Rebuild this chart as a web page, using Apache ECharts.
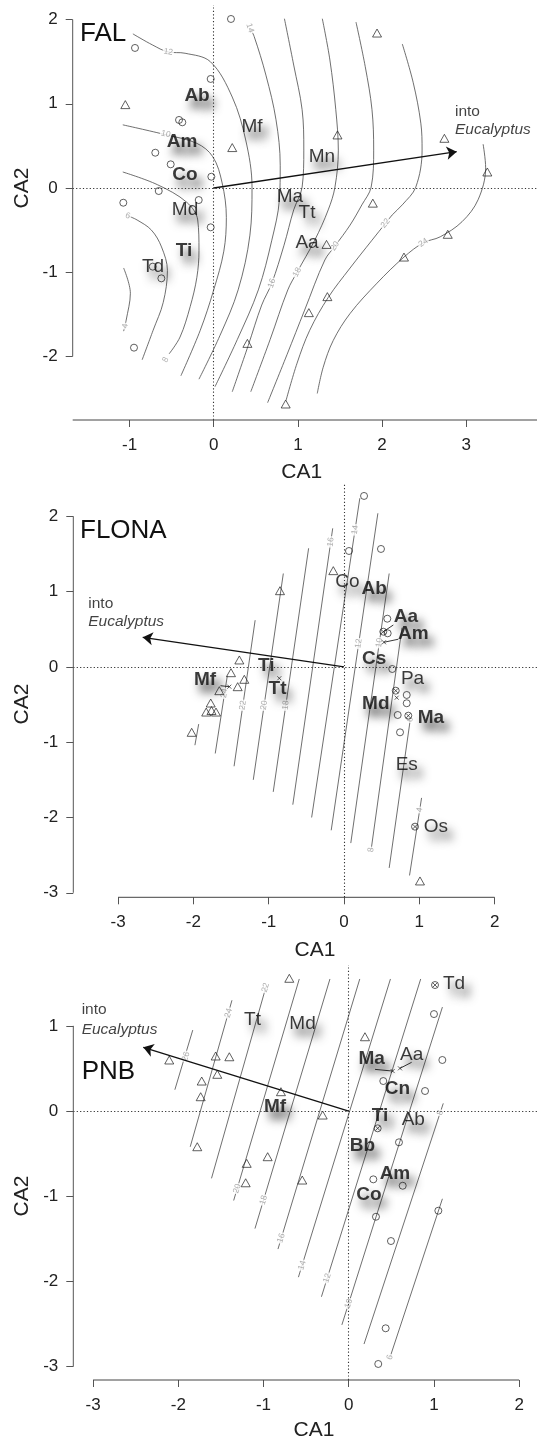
<!DOCTYPE html>
<html><head><meta charset="utf-8">
<script src="https://cdn.jsdelivr.net/npm/echarts@6/dist/echarts.min.js"></script>
<style>html,body{margin:0;padding:0;background:#fff}#c{width:540px;height:1442px}</style>
</head><body><div id="c"></div>
<script>
// ================= DATA =================
// ---- FAL ----
const falXTicks = [-1, 0, 1, 2, 3];
const falYTicks = [-2, -1, 0, 1, 2];
const falCircles = [[0.205,2.007],[-0.935,1.663],[-0.036,1.295],[-0.412,0.808],[-0.373,0.780],[-0.694,0.419],[-0.511,0.281],[-0.028,0.134],[-0.653,-0.036],[-1.074,-0.175],[-0.178,-0.143],[-0.036,-0.467],[-0.724,-0.934],[-0.622,-1.073],[-0.947,-1.896]];
const falTriangles = [[-1.05,0.99],[0.22,0.48],[1.94,1.84],[1.47,0.63],[2.74,0.59],[3.25,0.19],[1.89,-0.18],[2.78,-0.55],[2.26,-0.82],[1.35,-1.29],[1.13,-1.48],[0.855,-2.565],[0.40,-1.845],[1.34,-0.67]];
const falCircleX = [];
const falCrosses = [];
const falLeaders = [];
const falSpecies = ['Ab','Mf','Am','Co','Md','Mn','Ma','Tt','Aa','Ti','Td'];
const falSpeciesPos = [[-0.198,1.093],[0.455,0.724],[-0.376,0.546],[-0.341,0.154],[-0.341,-0.261],[1.286,0.368],[0.906,-0.107],[1.108,-0.297],[1.108,-0.653],[-0.353,-0.748],[-0.721,-0.938]];
const falSpeciesBold = [1,0,1,1,0,0,0,0,0,1,0];
const falArrow = [2.886, 0.431];
const falIntoPos = [[2.866,0.903],[2.866,0.689]];
const falContourLevels = [4,6,8,10,12,14,16,18,20,22,24];
const falContourPaths = [
  [[-1.07,-0.95],[-0.99,-1.25],[-1.04,-1.57],[-1.07,-1.70]],
  [[-1.02,-0.33],[-0.91,-0.38],[-0.74,-0.50],[-0.62,-0.70],[-0.55,-0.98],[-0.60,-1.36],[-0.72,-1.69],[-0.85,-2.04]],
  [[-1.08,0.19],[-0.67,0.04],[-0.32,-0.17],[-0.19,-0.38],[-0.175,-0.74],[-0.20,-1.06],[-0.28,-1.41],[-0.40,-1.77],[-0.53,-1.97]],
  [[-1.08,0.75],[-0.56,0.63],[-0.20,0.53],[-0.01,0.37],[0.10,0.06],[0.15,-0.35],[0.12,-0.75],[0.00,-1.21],[-0.16,-1.69],[-0.39,-2.23]],
  [[-0.96,1.83],[-0.73,1.70],[-0.54,1.615],[-0.34,1.60],[-0.04,1.50],[0.22,1.08],[0.38,0.57],[0.455,0.01],[0.43,-0.56],[0.29,-1.21],[0.075,-1.75],[-0.175,-2.27]],
  [[0.43,1.90],[0.48,1.80],[0.62,1.34],[0.74,0.81],[0.79,0.27],[0.78,-0.14],[0.69,-0.62],[0.53,-1.21],[0.28,-1.80],[0.015,-2.36]],
  [[0.84,2.01],[0.95,1.46],[1.05,0.93],[1.07,0.45],[1.05,0.01],[0.95,-0.26],[0.835,-0.68],[0.69,-1.13],[0.57,-1.39],[0.41,-1.87],[0.22,-2.42]],
  [[1.29,2.01],[1.38,1.52],[1.45,0.93],[1.48,0.45],[1.44,0.01],[1.36,-0.26],[1.20,-0.62],[0.99,-1.00],[0.88,-1.21],[0.67,-1.80],[0.44,-2.42]],
  [[1.69,1.97],[1.80,1.44],[1.88,0.93],[1.90,0.45],[1.87,0.01],[1.76,-0.20],[1.62,-0.44],[1.44,-0.69],[1.32,-0.855],[1.08,-1.45],[0.87,-1.98],[0.64,-2.55]],
  [[2.24,1.71],[2.37,1.25],[2.46,0.77],[2.475,0.45],[2.40,0.01],[2.24,-0.20],[2.12,-0.32],[2.04,-0.42],[1.88,-0.62],[1.62,-0.95],[1.36,-1.30],[1.14,-1.69],[0.99,-2.08],[0.86,-2.52]],
  [[3.20,0.52],[3.23,0.24],[3.14,-0.14],[2.95,-0.40],[2.69,-0.58],[2.49,-0.65],[2.26,-0.82],[1.94,-1.13],[1.62,-1.49],[1.42,-1.81],[1.30,-2.13],[1.23,-2.44]]
];
const falContourLabelPos = [[-1.05,-1.64],[-1.02,-0.33],[-0.57,-2.04],[-0.57,0.64],[-0.54,1.615],[0.43,1.90],[0.69,-1.13],[0.99,-1.00],[1.44,-0.69],[2.04,-0.42],[2.49,-0.65]];
const falContourLabelAngles = [80,-20,60,-14,-10,-72,70,63,55,50,35];

// ---- FLONA ----
const flonaXTicks = [-3, -2, -1, 0, 1, 2];
const flonaYTicks = [-3, -2, -1, 0, 1, 2];
const flonaCircles = [[0.266,2.270],[0.066,1.539],[0.491,1.566],[0.575,0.640],[0.580,0.446],[0.641,-0.028],[0.833,-0.373],[0.833,-0.483],[0.713,-0.639],[0.744,-0.869]];
const flonaTriangles = [[-0.142,1.278],[-0.850,1.012],[-1.390,0.092],[-1.501,-0.077],[-1.324,-0.165],[-1.412,-0.263],[-1.656,-0.316],[-1.77,-0.48],[-1.83,-0.60],[-1.76,-0.58],[-1.70,-0.60],[-2.023,-0.869],[1.009,-2.843]];
const flonaCircleX = [[0.522,0.467],[0.687,-0.316],[0.854,-0.648],[0.943,-2.122]];
const flonaCrosses = [[0.531,0.327],[0.700,-0.409],[-0.859,-0.151],[-1.523,-0.263]];
const flonaLeaders = [[[0.522,0.467],[0.655,0.556]],[[0.531,0.327],[0.721,0.367]],[[-1.523,-0.263],[-1.64,-0.25]]];
const flonaSpecies = ['Co','Ab','Aa','Am','Cs','Pa','Md','Ma','Es','Os','Mf','Ti','Tt'];
const flonaSpeciesPos = [[0.044,1.131],[0.401,1.044],[0.821,0.667],[0.920,0.434],[0.401,0.114],[0.910,-0.163],[0.422,-0.493],[1.153,-0.672],[0.833,-1.303],[1.219,-2.126],[-1.846,-0.174],[-1.032,0.012],[-0.883,-0.284]];
const flonaSpeciesBold = [0,1,1,1,1,0,1,1,0,0,1,1,1];
const flonaArrow = [-2.673, 0.393];
const flonaIntoPos = [[-3.396,0.835],[-3.396,0.596]];
const flonaContourLevels = [26,24,22,20,18,16,14,12,10,8,6,4];
const flonaContourPaths = [
  [[-1.98,-1.04],[-1.93,-0.76]],
  [[-1.71,-1.15],[-1.55,-0.12]],
  [[-1.46,-1.32],[-1.18,0.62]],
  [[-1.205,-1.50],[-0.806,1.24]],
  [[-0.94,-1.66],[-0.47,1.575]],
  [[-0.68,-1.83],[-0.15,1.84]],
  [[-0.43,-2.00],[0.21,2.24]],
  [[-0.17,-2.17],[0.45,2.04]],
  [[0.09,-2.34],[0.60,1.24]],
  [[0.36,-2.43],[0.77,0.52]],
  [[0.60,-2.67],[0.88,-0.70]],
  [[0.87,-2.77],[1.03,-1.74]]
];
const flonaContourLabelPos = [null,[-1.59,-0.35],[-1.343,-0.51],[-1.061,-0.51],[-0.773,-0.51],[-0.176,1.66],[0.147,1.82],[0.195,0.31],[0.469,0.32],[0.36,-2.43],[0.88,-0.70],[1.005,-1.90]];
const flonaContourLabelAngles = [82,82,82,82,82,82,82,82,82,82,82,82];

// ---- PNB ----
const pnbXTicks = [-3, -2, -1, 0, 1, 2];
const pnbYTicks = [-3, -2, -1, 0, 1];
const pnbCircles = [[1.001,1.138],[1.099,0.599],[0.406,0.352],[0.896,0.235],[0.590,-0.367],[0.289,-0.802],[0.634,-0.877],[0.320,-1.241],[0.496,-1.526],[0.434,-2.550],[0.347,-2.969],[1.052,-1.170]];
const pnbTriangles = [[-0.697,1.558],[0.191,0.872],[-2.106,0.599],[-1.561,0.646],[-1.401,0.637],[-1.725,0.352],[-1.542,0.431],[-1.737,0.168],[-0.795,0.227],[-0.305,-0.047],[-1.777,-0.419],[-0.951,-0.536],[-1.197,-0.614],[-1.209,-0.842],[-0.545,-0.810]];
const pnbCircleX = [[1.013,1.479],[0.340,-0.203]];
const pnbCrosses = [[0.516,0.469],[0.602,0.501]];
const pnbLeaders = [[[0.309,0.489],[0.516,0.469]],[[0.602,0.501],[0.739,0.572]]];
const pnbSpecies = ['Td','Tt','Md','Ma','Aa','Cn','Mf','Ti','Ab','Bb','Am','Co'];
const pnbSpeciesPos = [[1.236,1.491],[-1.129,1.077],[-0.542,1.021],[0.270,0.608],[0.739,0.657],[0.573,0.256],[-0.865,0.050],[0.367,-0.061],[0.758,-0.106],[0.162,-0.408],[0.543,-0.742],[0.238,-0.986]];
const pnbSpeciesBold = [0,0,0,1,0,1,1,1,0,1,1,1];
const pnbArrow = [-2.411, 0.748];
const pnbIntoPos = [[-3.134,1.185],[-3.134,0.959]];
const pnbContourLevels = [26,24,22,20,18,16,14,12,10,8,6];
const pnbContourPaths = [
  [[-2.04,0.25],[-1.83,0.95]],
  [[-1.86,-0.42],[-1.37,1.30]],
  [[-1.61,-0.79],[-0.97,1.46]],
  [[-1.35,-1.05],[-0.58,1.55]],
  [[-1.10,-1.38],[-0.22,1.55]],
  [[-0.83,-1.62],[0.13,1.55]],
  [[-0.59,-1.95],[0.49,1.55]],
  [[-0.32,-2.18],[0.845,1.55]],
  [[-0.08,-2.51],[1.10,1.22]],
  [[0.18,-2.735],[1.11,0.09]],
  [[0.485,-2.89],[1.10,-1.03]]
];
const pnbContourLabelPos = [[-1.91,0.64],[-1.41,1.15],[-0.975,1.45],[-1.308,-0.91],[-0.999,-1.045],[-0.792,-1.49],[-0.546,-1.81],[-0.252,-1.96],[0.0,-2.26],[1.073,-0.02],[0.485,-2.89]];
const pnbContourLabelAngles = [73,73,73,73,73,73,73,73,73,73,73];

// ================= LAYOUT / STYLE =================
const FONT = '"Liberation Sans", Arial, Helvetica, sans-serif';
const layouts = [
  {left:72.7, top:5,   width:464.3, height:415,   xMin:-1.675, xMax:3.84,  yMin:-2.755, yMax:2.173, fullX:true,  smooth:0.35},
  {left:73.3, top:483, width:463.7, height:414.3, xMin:-3.595, xMax:2.563, yMin:-3.06,  yMax:2.442, fullX:false, smooth:false},
  {left:73.3, top:965, width:463.7, height:415,   xMin:-3.232, xMax:2.21,  yMin:-3.157, yMax:1.714, fullX:false, smooth:false}
];
const panels = [
  {xt:falXTicks, yt:falYTicks, circles:falCircles, triangles:falTriangles, circleX:falCircleX, crosses:falCrosses, leaders:falLeaders,
   species:falSpecies, speciesPos:falSpeciesPos, bold:falSpeciesBold, arrow:falArrow, into:falIntoPos,
   levels:falContourLevels, paths:falContourPaths, lpos:falContourLabelPos, lang:falContourLabelAngles},
  {xt:flonaXTicks, yt:flonaYTicks, circles:flonaCircles, triangles:flonaTriangles, circleX:flonaCircleX, crosses:flonaCrosses, leaders:flonaLeaders,
   species:flonaSpecies, speciesPos:flonaSpeciesPos, bold:flonaSpeciesBold, arrow:flonaArrow, into:flonaIntoPos,
   levels:flonaContourLevels, paths:flonaContourPaths, lpos:flonaContourLabelPos, lang:flonaContourLabelAngles},
  {xt:pnbXTicks, yt:pnbYTicks, circles:pnbCircles, triangles:pnbTriangles, circleX:pnbCircleX, crosses:pnbCrosses, leaders:pnbLeaders,
   species:pnbSpecies, speciesPos:pnbSpeciesPos, bold:pnbSpeciesBold, arrow:pnbArrow, into:pnbIntoPos,
   levels:pnbContourLevels, paths:pnbContourPaths, lpos:pnbContourLabelPos, lang:pnbContourLabelAngles}
];
const CROSS = 'path://M0,0L10,10M10,0L0,10';
const hollow = {color:'transparent', borderColor:'#222', borderWidth:0.9};

const grids=[], xAxes=[], yAxes=[], series=[];
panels.forEach((P,i)=>{
  const L = layouts[i];
  grids.push({left:L.left, top:L.top, width:L.width, height:L.height, containLabel:false, outerBoundsMode:'none'});
  const tickCommon = {length:7, lineStyle:{color:'#555', width:1}};
  const labCommon = {fontSize:17, color:'#222', fontFamily:FONT};
  xAxes.push({type:'value', gridIndex:i, min:L.xMin, max:L.xMax, splitLine:{show:false},
    axisLine:{show:false, onZero:false},
    axisTick:Object.assign({show:true, customValues:P.xt}, tickCommon),
    axisLabel:Object.assign({customValues:P.xt, margin:17}, labCommon)});
  yAxes.push({type:'value', gridIndex:i, min:L.yMin, max:L.yMax, splitLine:{show:false},
    axisLine:{show:false, onZero:false},
    axisTick:Object.assign({show:true, customValues:P.yt}, tickCommon),
    axisLabel:Object.assign({customValues:P.yt, margin:15}, labCommon)});
  const ax = {xAxisIndex:i, yAxisIndex:i};
  const xl = L.fullX ? [L.xMin, L.xMax] : [P.xt[0], P.xt[P.xt.length-1]];
  series.push(Object.assign({type:'line', data:[[xl[0],L.yMin],[xl[1],L.yMin]], symbol:'none', clip:false, silent:true, z:6,
    lineStyle:{color:'#444', width:1},
    markLine:{silent:true, animation:false, symbol:['none','none'], label:{show:false},
      lineStyle:{color:'#333', type:[1.2,2.2], width:1.1}, data:[{xAxis:0},{yAxis:0}]}}, ax));
  series.push(Object.assign({type:'line', data:[[L.xMin,P.yt[0]],[L.xMin,P.yt[P.yt.length-1]]], symbol:'none', clip:false, silent:true, z:6,
    lineStyle:{color:'#555', width:1},
    markLine:{silent:true, animation:false, symbol:['none','arrow'], symbolSize:10, label:{show:false},
      lineStyle:{color:'#111', type:'solid', width:1.3}, data:[[{coord:[0,0]},{coord:P.arrow}]]}}, ax));
  P.paths.forEach(path=>{
    series.push(Object.assign({type:'line', data:path, smooth:L.smooth, symbol:'none', showSymbol:false, silent:true, z:1,
      lineStyle:{color:'#4a4a4a', width:0.8}}, ax));
  });
  P.leaders.forEach(seg=>{
    series.push(Object.assign({type:'line', data:seg, symbol:'none', showSymbol:false, silent:true, z:3,
      lineStyle:{color:'#222', width:0.9}}, ax));
  });
  const cl = [];
  P.levels.forEach((lv,k)=>{ if(P.lpos[k]) cl.push({name:String(lv), value:P.lpos[k], label:{rotate:P.lang[k]}}); });
  series.push(Object.assign({type:'scatter', data:cl, symbol:'circle', symbolSize:1, itemStyle:{color:'transparent'}, silent:true, z:2,
    label:{show:true, position:'inside', formatter:'{b}', fontSize:8.5, color:'#9a9a9a', fontFamily:FONT, backgroundColor:'#fff', padding:[0,1]}}, ax));
  series.push(Object.assign({type:'scatter', data:P.circles, symbol:'circle', symbolSize:7, itemStyle:hollow, silent:true, z:3}, ax));
  series.push(Object.assign({type:'scatter', data:P.triangles, symbol:'triangle', symbolSize:[9,8], itemStyle:hollow, silent:true, z:3}, ax));
  series.push(Object.assign({type:'scatter', data:P.circleX, symbol:'circle', symbolSize:7, itemStyle:hollow, silent:true, z:3}, ax));
  series.push(Object.assign({type:'scatter', data:P.circleX, symbol:CROSS, symbolSize:4.5, itemStyle:{color:'transparent', borderColor:'#222', borderWidth:0.9}, silent:true, z:3}, ax));
  series.push(Object.assign({type:'scatter', data:P.crosses, symbol:CROSS, symbolSize:4, itemStyle:{color:'transparent', borderColor:'#222', borderWidth:0.9}, silent:true, z:3}, ax));
  const sp = P.species.map((n,k)=>({name:n, value:P.speciesPos[k], label:{fontWeight:P.bold[k]?'bold':'normal'}}));
  series.push(Object.assign({type:'scatter', data:sp, symbol:'circle', symbolSize:1, itemStyle:{color:'transparent'}, silent:true, z:4,
    label:{show:true, position:'inside', formatter:'{b}', fontSize:19, color:'#0a0a0a', fontFamily:FONT,
      textShadowColor:'#000', textShadowBlur:10, textShadowOffsetX:5, textShadowOffsetY:8}}, ax));
  series.push(Object.assign({type:'scatter', symbol:'circle', symbolSize:1, itemStyle:{color:'transparent'}, silent:true, z:4,
    data:[{name:'into', value:P.into[0]}, {name:'Eucalyptus', value:P.into[1], label:{fontStyle:'italic'}}],
    label:{show:true, position:'inside', align:'left', verticalAlign:'middle', formatter:'{b}', fontSize:15.5, color:'#111', fontFamily:FONT}}, ax));
});

const txt = (t,x,y,size,rot)=>({type:'text', x:x, y:y, rotation:rot||0, silent:true,
  style:{text:t, font:size+'px '+FONT, fill:'#111', textAlign:rot?'center':'left', textVerticalAlign:'middle'}});
const axName = (t,x,y,rot)=>({type:'text', x:x, y:y, rotation:rot||0, silent:true,
  style:{text:t, font:'21px '+FONT, fill:'#222', textAlign:'center', textVerticalAlign:'middle'}});
const graphic = [
  txt('FAL', 80, 34, 26), txt('FLONA', 80, 531, 26), txt('PNB', 81.7, 1071.7, 26),
  axName('CA1', 301.7, 472), axName('CA1', 315, 950.7), axName('CA1', 314, 1430),
  axName('CA2', 22.5, 188, Math.PI/2), axName('CA2', 22.5, 704, Math.PI/2), axName('CA2', 22.5, 1196, Math.PI/2)
];

const chart = echarts.init(document.getElementById('c'), null, {renderer:'canvas'});
chart.setOption({animation:false, backgroundColor:'#fff', grid:grids, xAxis:xAxes, yAxis:yAxes, series:series, graphic:graphic});
</script>
</body></html>
